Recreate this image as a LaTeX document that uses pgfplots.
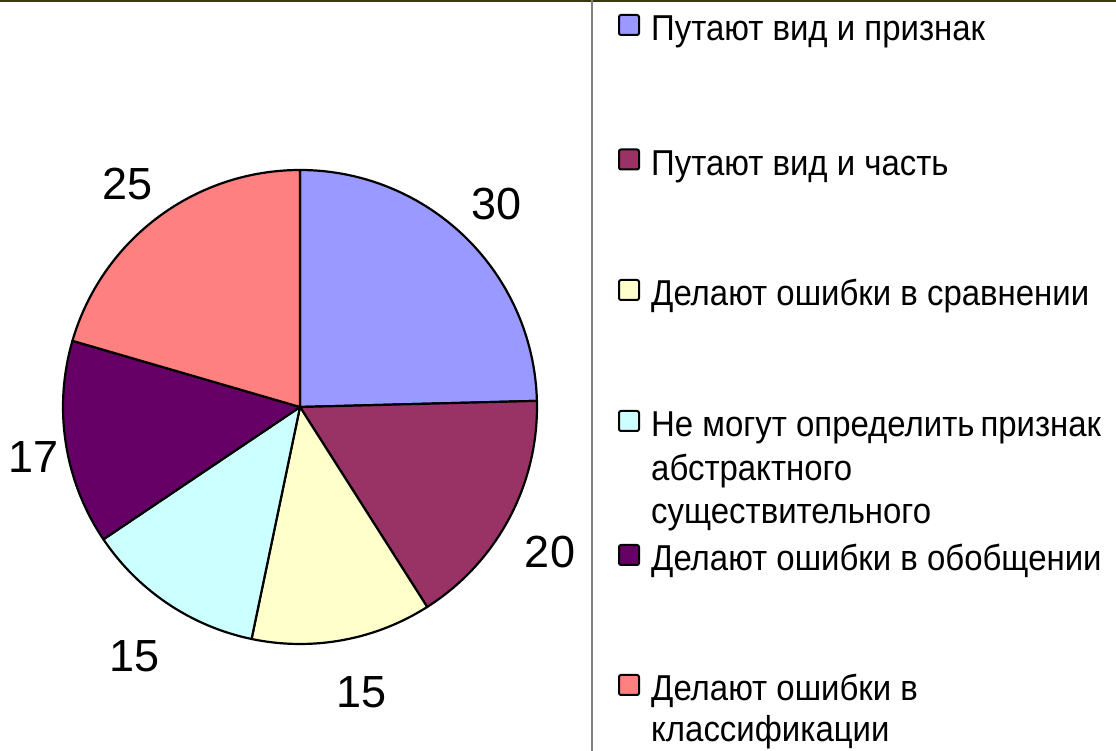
\documentclass[border=0pt]{standalone}
\usepackage{pgfplots}
\pgfplotsset{compat=1.18}
\usepackage{fontspec}
\setmainfont{Liberation Sans}
\newfontfamily\legfont[FakeStretch=0.915]{Liberation Sans}
\definecolor{c1}{HTML}{9999FF}
\definecolor{c2}{HTML}{993366}
\definecolor{c3}{HTML}{FFFFCC}
\definecolor{c4}{HTML}{CCFFFF}
\definecolor{c5}{HTML}{660066}
\definecolor{c6}{HTML}{FF8080}
\definecolor{topline}{HTML}{3A3A10}
\newcommand{\lfont}{\legfont\fontsize{36}{43}\selectfont}
\newcommand{\dfont}{\fontsize{45}{54}\selectfont}
% data values
\def\vA{30}\def\vB{20}\def\vC{15}\def\vD{15}\def\vE{17}\def\vF{25}
\begin{document}
\begin{tikzpicture}
\path[use as bounding box] (0pt,0pt) rectangle (1116pt,751pt);
\pgfmathsetmacro{\tot}{\vA+\vB+\vC+\vD+\vE+\vF}
\pgfmathsetmacro{\aA}{90}
\pgfmathsetmacro{\aB}{\aA-\vA/\tot*360}
\pgfmathsetmacro{\aC}{\aB-\vB/\tot*360}
\pgfmathsetmacro{\aD}{\aC-\vC/\tot*360}
\pgfmathsetmacro{\aE}{\aD-\vD/\tot*360}
\pgfmathsetmacro{\aF}{\aE-\vE/\tot*360}
\pgfmathsetmacro{\aG}{\aF-\vF/\tot*360}
\begin{axis}[at={(300pt,344pt)}, anchor=center, width=474pt, height=474pt,
  scale only axis, hide axis, xmin=-1, xmax=1, ymin=-1, ymax=1, clip=false]
\addplot[fill=c1, draw=black, line width=2.2pt, line join=round, domain=\aB:\aA, samples=90] ({cos(x)},{sin(x)}) -- (axis cs:0,0) -- cycle;
\addplot[fill=c2, draw=black, line width=2.2pt, line join=round, domain=\aC:\aB, samples=60] ({cos(x)},{sin(x)}) -- (axis cs:0,0) -- cycle;
\addplot[fill=c3, draw=black, line width=2.2pt, line join=round, domain=\aD:\aC, samples=50] ({cos(x)},{sin(x)}) -- (axis cs:0,0) -- cycle;
\addplot[fill=c4, draw=black, line width=2.2pt, line join=round, domain=\aE:\aD, samples=50] ({cos(x)},{sin(x)}) -- (axis cs:0,0) -- cycle;
\addplot[fill=c5, draw=black, line width=2.2pt, line join=round, domain=\aF:\aE, samples=50] ({cos(x)},{sin(x)}) -- (axis cs:0,0) -- cycle;
\addplot[fill=c6, draw=black, line width=2.2pt, line join=round, domain=\aG:\aF, samples=70] ({cos(x)},{sin(x)}) -- (axis cs:0,0) -- cycle;
\end{axis}
% frame lines
\draw[topline, line width=2.5pt] (0pt,750pt) -- (1116pt,750pt);
\draw[gray, line width=1.6pt] (592pt,0pt) -- (592pt,751pt);
% data labels
\node[font=\dfont, inner sep=0pt] at (497pt,547pt) {30};
\node[font=\dfont, inner sep=0pt] at (550pt,199pt) {20};
\node[font=\dfont, inner sep=0pt] at (362pt,59pt) {15};
\node[font=\dfont, inner sep=0pt] at (135pt,95pt) {15};
\node[font=\dfont, inner sep=0pt] at (34pt,294pt) {17};
\node[font=\dfont, inner sep=0pt] at (128pt,567pt) {25};
% legend
\foreach \c/\b in {c1/710, c2/575.5, c3/445, c4/314, c5/180, c6/50}{
  \draw[fill=\c, line width=2pt, rounded corners=2pt] (619pt,\b pt+6pt) rectangle (639pt,\b pt+26pt);
}
\node[font=\lfont, anchor=base west, inner sep=0pt] at (651pt,710pt) {Путают вид и признак};
\node[font=\lfont, anchor=base west, inner sep=0pt] at (651pt,575.5pt) {Путают вид и часть};
\node[font=\lfont, anchor=base west, inner sep=0pt] at (651pt,445pt) {Делают ошибки в сравнении};
\node[font=\lfont, anchor=base west, inner sep=0pt] at (651pt,314pt) {Не могут определить\,признак};
\node[font=\lfont, anchor=base west, inner sep=0pt] at (651pt,270pt) {абстрактного};
\node[font=\lfont, anchor=base west, inner sep=0pt] at (651pt,227pt) {существительного};
\node[font=\lfont, anchor=base west, inner sep=0pt] at (651pt,180pt) {Делают ошибки в обобщении};
\node[font=\lfont, anchor=base west, inner sep=0pt] at (651pt,50pt) {Делают ошибки в};
\node[font=\lfont, anchor=base west, inner sep=0pt] at (651pt,9pt) {классификации};
\end{tikzpicture}
\end{document}
